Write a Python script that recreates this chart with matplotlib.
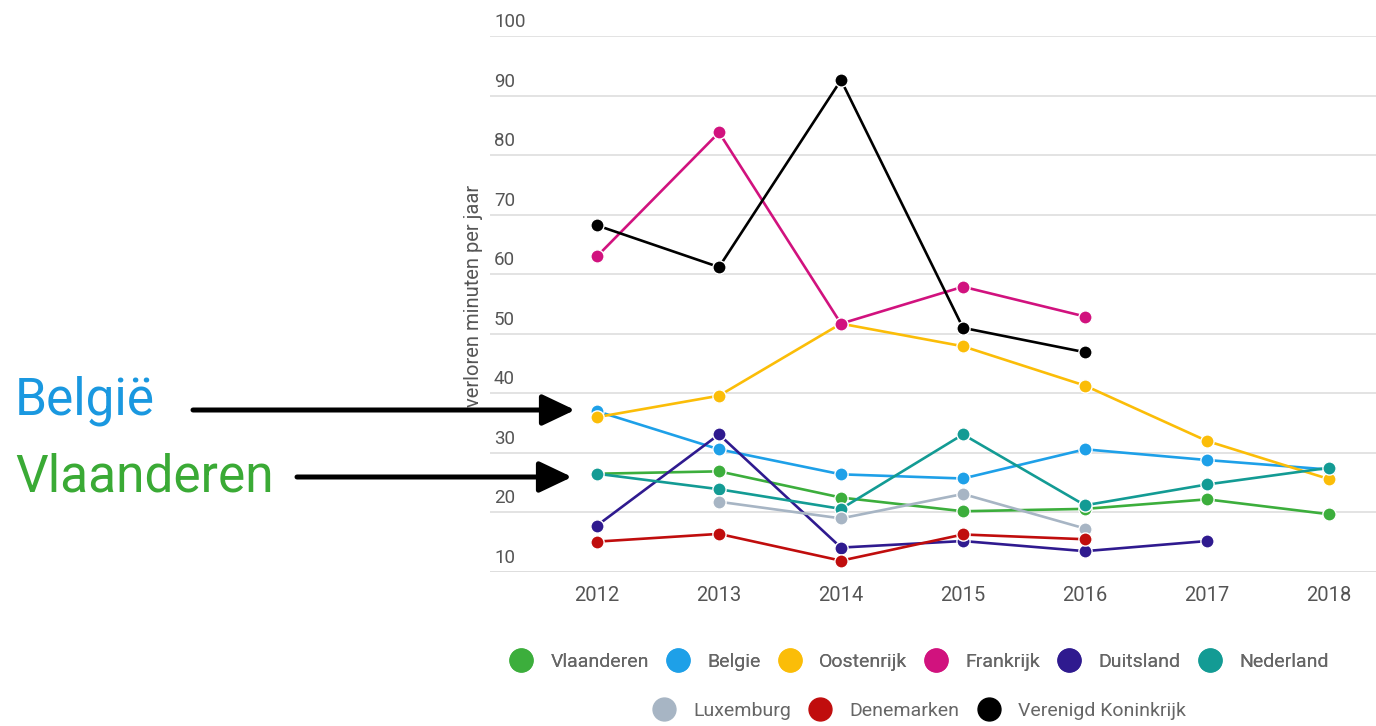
import numpy as np
import matplotlib
matplotlib.use("Agg")
import matplotlib.pyplot as plt
from matplotlib.lines import Line2D
from matplotlib.patches import FancyArrowPatch
from matplotlib.transforms import blended_transform_factory, offset_copy

plt.rcParams["font.family"] = ["Roboto", "DejaVu Sans"]

years = [2012, 2013, 2014, 2015, 2016, 2017, 2018]
nan = np.nan

series_names = ["Vlaanderen", "Belgie", "Oostenrijk", "Frankrijk", "Duitsland",
                "Nederland", "Luxemburg", "Denemarken", "Verenigd Koninkrijk"]

vlaanderen = [26.5, 26.9, 22.5, 20.2, 20.6, 22.2, 19.7]
belgie = [37.0, 30.6, 26.4, 25.7, 30.6, 28.8, 27.2]
oostenrijk = [36.0, 39.6, 51.7, 47.9, 41.3, 32.0, 25.6]
frankrijk = [63.0, 83.8, 51.7, 57.9, 52.9, nan, nan]
duitsland = [17.8, 33.1, 14.1, 15.2, 13.5, 15.2, nan]
nederland = [26.5, 23.9, 20.6, 33.1, 21.2, 24.7, 27.5]
luxemburg = [nan, 21.8, 19.0, 23.1, 17.3, nan, nan]
denemarken = [15.1, 16.4, 11.9, 16.3, 15.5, nan, nan]
verenigd_koninkrijk = [68.2, 61.2, 92.6, 51.0, 46.9, nan, nan]

series_values = [vlaanderen, belgie, oostenrijk, frankrijk, duitsland,
                 nederland, luxemburg, denemarken, verenigd_koninkrijk]

colors = ["#3cae3c", "#1ea0e8", "#fbbd08", "#d1127e", "#2f1a8f",
          "#139b94", "#a7b5c4", "#c00d0d", "#000000"]

y_ticks = [10, 20, 30, 40, 50, 60, 70, 80, 90, 100]
y_label = "verloren minuten per jaar"

W, H = 1376, 726
fig = plt.figure(figsize=(W / 100, H / 100), dpi=100)
ax = fig.add_axes([490 / W, 1 - 572 / H, (W - 490) / W, (572 - 36) / H])

for name, vals, col in zip(series_names, series_values, colors):
    ax.plot(years, vals, color=col, lw=1.9, marker="o", markersize=9.5,
            markeredgecolor="white", markeredgewidth=1.0, label=name,
            solid_capstyle="round", zorder=3)

ax.set_xlim(2012 - 107 / 122, 2012 + (W - 597) / 122)
ax.set_ylim(10, 100)
ax.set_xticks(years)
ax.set_yticks(y_ticks)
ax.tick_params(axis="x", length=0, pad=10, labelsize=14.5, labelcolor="#555555")
ax.tick_params(axis="y", length=0, labelleft=False)
for s in ax.spines.values():
    s.set_visible(False)
ax.grid(axis="y", color="#e0e0e0", lw=1.3, zorder=0)
ax.grid(axis="x", visible=False)
ax.axhline(10, color="#cccccc", lw=1.3, zorder=1)

# y tick labels sit just above their gridlines, inside the plot area
trans = blended_transform_factory(ax.transAxes, ax.transData)
trans = offset_copy(trans, fig=fig, x=4, y=5, units="dots")
for v in y_ticks:
    ax.text(0.0, v, str(v), transform=trans, ha="left", va="bottom",
            fontsize=13.5, color="#555555")

ax.set_ylabel(y_label, fontsize=14.5, color="#555555")
ax.yaxis.set_label_coords(-0.008, 0.515)

# legend in two centered rows
handles = [Line2D([], [], marker="o", linestyle="", markersize=16.5,
                  markerfacecolor=c, markeredgecolor=c) for c in colors]
leg_kw = dict(frameon=False, fontsize=14, labelcolor="#666666",
              handlelength=1.0, handletextpad=1.0, columnspacing=1.0,
              borderaxespad=0, borderpad=0)
leg1 = fig.legend(handles[:6], series_names[:6], ncol=6, loc="center",
                  bbox_to_anchor=(920 / W, 1 - 662 / H), **leg_kw)
fig.add_artist(leg1)
fig.legend(handles[6:], series_names[6:], ncol=3, loc="center",
           bbox_to_anchor=(920 / W, 1 - 711 / H), **leg_kw)

# side annotations with arrows
fig.text(15 / W, 1 - 415 / H, "België", fontsize=37, color="#1a98e0",
         ha="left", va="baseline")
fig.text(15 / W, 1 - 492 / H, "Vlaanderen", fontsize=37, color="#3aaa35",
         ha="left", va="baseline")
for x0, x1, yy in [(193, 575, 410), (297, 572, 477)]:
    fig.add_artist(FancyArrowPatch((x0 / W, 1 - yy / H), (x1 / W, 1 - yy / H),
                                   transform=fig.transFigure,
                                   arrowstyle="-|>,head_length=20,head_width=9.5",
                                   mutation_scale=1, lw=3.6, color="black",
                                   shrinkA=0, shrinkB=0, zorder=5))

fig.savefig("out.png", dpi=100, facecolor="white")
